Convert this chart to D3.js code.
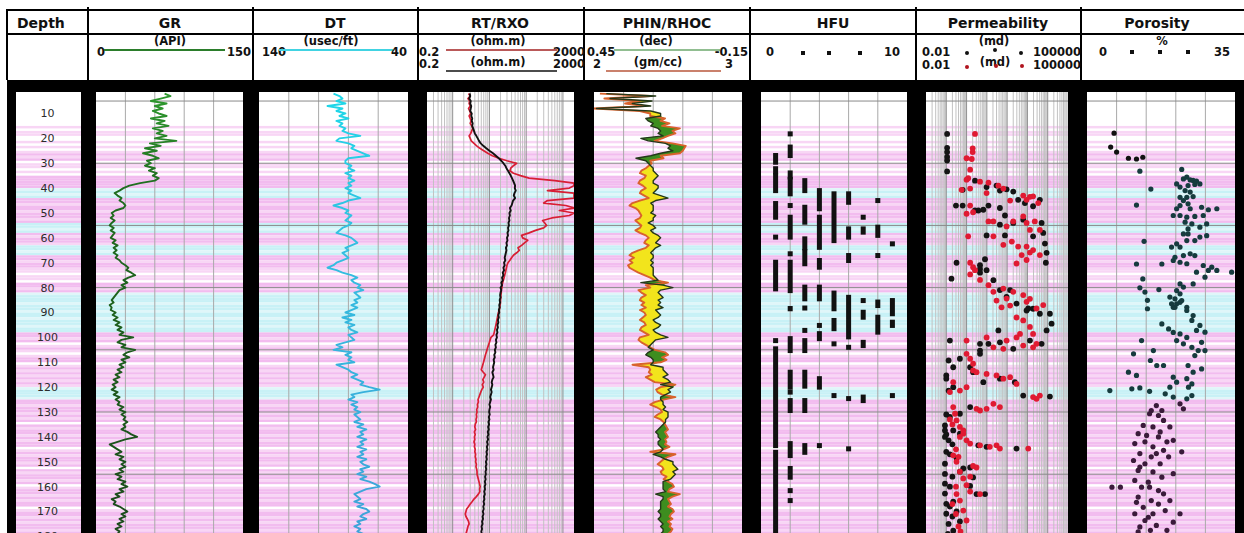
<!DOCTYPE html>
<html>
<head>
<meta charset="utf-8">
<script src="https://cdn.jsdelivr.net/npm/d3@7"></script>
<style>
  html, body { margin: 0; padding: 0; background: #fff; }
  svg { display: block; }
</style>
</head>
<body>
<svg id="chart" width="1244" height="533"></svg>
<script>
// ---------------- log data (1 ft sampling from depth 2 to 180) ----------------
const depthTop = 2;
const depthStep = 1;

const grValues = [
  70,76,66,56,72,60,68,58,
  64,72,56,70,62,74,58,68,62,72,
  60,82,55,66,50,62,48,58,64,52,
  56,50,60,54,62,58,64,60,45,34,
  28,24,19,22,26,24,28,30,28,20,
  16,18,15,19,16,14,18,15,19,17,
  15,20,17,22,18,21,18,22,20,24,
  26,30,33,31,36,40,33,28,32,26,
  30,24,22,20,18,16,18,14,16,15,
  20,17,22,18,24,20,26,22,28,24,
  38,26,22,30,26,40,32,28,34,26,
  30,24,28,22,26,20,24,18,22,17,
  20,16,22,18,24,20,24,22,28,24,
  30,26,30,28,32,28,30,26,32,36,
  42,30,22,14,18,22,26,20,28,24,
  30,26,30,24,28,20,26,22,30,26,
  32,24,28,20,24,16,20,18,24,28,
  32,26,30,24,28,22,26,20,24,22,26
];

const dtValues = [
  90,86,84,88,82,94,84,88,
  82,86,80,88,84,86,82,84,80,72,
  86,88,80,76,78,74,70,66,80,82,
  82,78,80,76,82,78,80,76,80,78,
  82,78,80,76,72,80,84,90,84,80,
  82,78,80,82,78,80,84,86,88,82,
  78,76,74,78,82,80,84,82,80,84,
  88,90,94,88,84,78,74,78,76,72,
  74,70,76,74,72,76,74,78,74,78,
  82,76,84,78,82,76,80,78,74,80,
  78,76,82,88,84,90,78,82,78,80,
  76,88,84,80,78,74,78,74,70,72,
  66,59,70,78,76,80,74,78,74,76,
  72,76,74,72,76,70,74,68,72,70,
  74,68,72,70,74,68,72,70,74,68,
  72,70,66,72,70,74,68,72,66,62,
  59,68,72,76,74,72,76,70,74,68,
  66,70,72,68,74,72,76,72,74,70,72
];

const rtValues = [
  2.9,3.0,2.8,3.1,3.0,3.2,3.1,3.0,
  3.3,3.2,3.4,3.3,3.5,3.4,3.6,3.8,4.0,4.4,
  4.8,5.2,5.8,6.8,8.2,10,12.5,15,18,21,
  24,27,29,32,35,38,41,44,47,50,
  49,52,48,46,50,44,42,40,36,38,
  35,36,34,35,33,34,32,33,31,32,
  30,31,29,30,28,29,28,27,26,27,
  25,26,24,25,23,24,22,23,21,22,
  20,21,20,19.5,20,19,19.5,18.5,19,18,
  18.5,17.5,18,17,17.5,16.5,17,16,16.5,15.5,
  16,15,15.5,14.5,15,14,14.5,13.5,14,13,
  13.5,13,12.5,13,12,12.5,13,12,11.5,12,
  11.5,11,11.5,11,10.5,11,10.5,10,10.5,10,
  9.8,10.2,9.6,10,9.4,9.8,9.2,9.6,9.0,9.4,
  8.8,9.2,8.6,9.0,8.5,8.8,8.3,8.6,8.2,8.5,
  8.0,8.3,7.9,8.2,7.8,8.0,7.6,7.9,7.5,7.8,
  7.4,7.6,7.2,7.5,7.1,7.3,6.9,7.2,6.8,7.0,
  6.6,6.9,6.5,6.7,6.3,6.5,6.1,6.3,6.0,6.2,5.9
];

const rxoValues = [
  2.7,3.0,2.6,2.9,2.8,3.0,2.7,2.9,
  3.1,2.8,3.0,3.2,3.0,3.3,3.5,3.3,3.1,2.8,
  3.0,3.2,3.8,4.5,5.5,7,9,12,18,30,
  55,45,38,36,45,70,120,600,2000,2000,
  1500,380,2000,2000,2000,380,300,1200,2000,800,
  2000,1500,500,280,320,360,300,180,120,75,
  80,110,90,75,60,65,55,45,40,36,
  32,30,29,28,27,26,25,24,23,22,
  22,21,21,20.5,20.5,20,20,19.5,19,18.5,
  17.5,17,16.5,16,15.5,15,14.5,14,13.5,13,
  11,10.5,10,9.5,9,8.6,8.2,7.8,7.5,7.2,
  6.9,6.6,6.3,6.0,6.8,7.8,7.2,6.6,7.0,6.4,
  6.8,6.2,5.8,5.5,5.2,4.9,5.0,4.7,4.8,4.5,
  4.6,4.4,4.5,4.3,4.4,4.1,4.0,4.2,3.9,4.1,
  3.9,4.0,3.8,4.0,3.9,4.1,4.0,4.2,4.1,4.3,
  4.2,4.4,4.3,4.5,4.6,4.6,4.8,5.0,5.2,5.4,
  5.6,5.4,5.5,5.0,4.4,3.8,3.4,3.0,2.7,2.4,
  2.3,2.2,2.3,2.5,2.7,2.8,2.6,2.5,2.4,2.3,2.3
];

const phinValues = [
  0.40,0.20,0.385,0.215,0.295,0.22,0.44,0.22,
  0.18,0.18,0.24,0.23,0.21,0.22,0.19,0.18,0.19,0.17,
  0.26,0.23,0.16,0.14,0.15,0.13,0.18,0.22,0.28,0.24,
  0.23,0.22,0.21,0.21,0.20,0.19,0.20,0.21,0.21,0.19,
  0.19,0.20,0.21,0.18,0.15,0.20,0.22,0.21,0.21,0.21,
  0.22,0.20,0.21,0.21,0.23,0.21,0.20,0.22,0.21,0.19,
  0.18,0.19,0.20,0.18,0.20,0.21,0.22,0.21,0.21,0.22,
  0.21,0.22,0.21,0.21,0.21,0.21,0.20,0.19,0.26,0.17,
  0.13,0.18,0.19,0.18,0.17,0.19,0.18,0.19,0.17,0.20,
  0.19,0.18,0.19,0.21,0.20,0.18,0.19,0.21,0.20,0.18,
  0.15,0.20,0.21,0.22,0.23,0.21,0.23,0.24,0.22,0.21,
  0.21,0.22,0.17,0.17,0.16,0.15,0.17,0.15,0.14,0.18,
  0.13,0.15,0.14,0.16,0.18,0.18,0.17,0.17,0.16,0.17,
  0.15,0.15,0.15,0.16,0.16,0.17,0.18,0.19,0.20,0.19,
  0.19,0.18,0.19,0.19,0.18,0.17,0.18,0.21,0.18,0.16,
  0.13,0.13,0.12,0.11,0.13,0.12,0.13,0.14,0.17,0.17,
  0.17,0.17,0.16,0.20,0.17,0.17,0.18,0.18,0.18,0.18,
  0.19,0.18,0.18,0.19,0.18,0.17,0.18,0.17,0.17,0.18,0.18
];

const rhocValues = [
  2.04,2.38,2.07,2.31,2.21,2.34,2.00,2.31,
  2.38,2.38,2.48,2.45,2.51,2.46,2.58,2.53,2.55,2.50,
  2.46,2.41,2.53,2.62,2.61,2.60,2.58,2.45,2.47,2.38,
  2.39,2.37,2.35,2.32,2.31,2.35,2.34,2.31,2.30,2.33,
  2.35,2.32,2.31,2.34,2.37,2.31,2.26,2.24,2.28,2.30,
  2.31,2.32,2.31,2.28,2.30,2.32,2.31,2.28,2.31,2.35,
  2.37,2.35,2.34,2.37,2.35,2.30,2.26,2.24,2.27,2.24,
  2.26,2.23,2.24,2.27,2.30,2.34,2.38,2.41,2.50,2.35,
  2.38,2.30,2.32,2.35,2.32,2.31,2.34,2.32,2.35,2.31,
  2.34,2.35,2.33,2.31,2.34,2.35,2.32,2.31,2.34,2.37,
  2.31,2.30,2.32,2.35,2.38,2.41,2.48,2.50,2.46,2.49,
  2.45,2.26,2.37,2.38,2.37,2.39,2.35,2.38,2.41,2.55,
  2.45,2.42,2.43,2.46,2.55,2.47,2.41,2.38,2.42,2.45,
  2.46,2.43,2.41,2.45,2.47,2.48,2.49,2.50,2.48,2.49,
  2.50,2.48,2.49,2.48,2.51,2.47,2.38,2.55,2.50,2.47,
  2.45,2.43,2.46,2.47,2.45,2.46,2.49,2.47,2.50,2.53,
  2.54,2.51,2.50,2.58,2.53,2.50,2.51,2.52,2.50,2.53,
  2.54,2.52,2.51,2.53,2.50,2.52,2.51,2.53,2.52,2.50,2.51
];

// hydraulic flow units: [unit, top depth, base depth]
const hfuIntervals = [
  [1,26.9,29.6],[1,32.2,33.5],[1,35,41],[1,46.2,51.7],[1,59.7,59.7],[1,69.8,80.5],[1,101.3,101.3],[1,104.6,143.5],[1,146.2,181],
  [2,18.2,18.2],[2,23.5,26.9],[2,33.9,35.5],[2,36.5,42.3],[2,47,47],[2,51.7,59.7],[2,66.4,66.4],[2,69.8,81.2],[2,88.4,88.5],
  [2,100.5,105.3],[2,114,120],[2,122,122],[2,125.4,129.4],[2,142.7,147.5],[2,152.7,156.2],[2,161.6,161.6],[2,165.6,165.6],
  [3,37,41],[3,47.7,53.7],[3,60.4,64],[3,65.5,70.4],[3,79.8,84.5],[3,88.2,88.2],[3,97.2,97.2],[3,101.3,105.3],[3,114,119.6],[3,125.4,129.4],[3,143.5,146.2],
  [4,41,48.3],[4,51.7,63.8],[4,69.1,71.8],[4,79.8,84.5],[4,95.2,95.2],[4,98.5,100.5],[4,116.6,120],[4,143.5,143.5],
  [5,42.3,61.1],[5,82.2,88.5],[5,93.2,96.5],[5,102.6,102.6],[5,123.4,123.4],
  [6,42.3,45.7],[6,56.4,59.7],[6,67.1,69.1],[6,83.9,92],[6,94,99.8],[6,104,104],[6,124.6,124.6],[6,144.8,144.8],
  [7,51.7,51.7],[7,56.4,57.7],[7,85.2,85.2],[7,89.9,91.9],[7,102,103.3],[7,124,125.4],
  [8,45,45],[8,55.7,59],[8,67.1,67.1],[8,85.8,87.2],[8,91.9,97.9],
  [9,62.4,62.4],[9,85.2,90.5],[9,93.9,95.2],[9,123.4,123.4]
];

// core permeability [depth, md]
const permCore = [
  [18.2,0.11],[23.8,0.11],[25.5,0.11],[27.5,0.11],[28.9,0.11],[33.3,0.11],
  [37,2.6],[39.6,9.7],[39,30],[40.7,0.64],[40.5,94],[41,44],[41.4,200],[44.7,350],[44.7,4100],[46,750],
  [47,0.3],[47,0.64],[47,12],[47.3,1900],[48,44],[48.7,6.7],[49,2.6],[49,3.8],[51,78],[52.7,620],[54,200],
  [54,5000],[54.7,44],[58,6000],[59,78],[59,9.7],[59.4,1900],[62.3,7300],[66,8800],[68.6,8.1],[70,0.32],
  [70,8100],[71,4.6],[72.5,4.6],[73,9.7],[74,4.6],[76.4,0.18],[77,21],[81,44],[81,140],[83.7,94],[86.4,290],
  [88.4,1100],[89.2,910],[88.5,1900],[90.5,4100],[90.5,12800],[94.5,15500],[97.2,8800],[102.6,5000],
  [101.3,1330],[104.6,200],[102,44],[97.2,37],[102.6,12],[102.6,4.6],[105.3,4.6],[101.3,0.15],[109.3,0.13],
  [112,0.22],[108.6,0.47],[112,1.5],[106.6,4.6],[115.3,0.1],[116.6,0.1],[121.4,0.13],[120,0.22],[114,2.1],
  [118,6.7],[116.6,44],[118,240],[123.4,620],[123.8,12800],[132,0.15],[135.4,0.086],[137.4,0.086],[140,0.086],
  [141.4,0.13],[137.4,0.22],[138.7,0.47],[128,1.5],[130.7,0.47],[143.4,3.8],[144,9.7],[144.7,290],[146,0.1],
  [150.8,0.086],[154.9,0.086],[158.8,0.086],[162.8,0.086],[166.9,0.1],[170.9,0.1],[175,0.13],[177.7,0.22],
  [148.5,0.32],[154,0.47],[152.7,0.69],[152.3,1.5],[156.3,2.1],[159.7,1.5],[163,3.1],[163,8.1],[166,0.22],
  [170,0.32],[174,0.47],[131,0.1],[139,0.1],[143,0.2],[147,0.15],[156,0.2],[160,0.15],[168,0.15],[172,0.2],[179,0.12]
];

// predicted permeability [depth, md]
const permPred = [
  [18.2,2.6],[24,2.0],[25.5,2.0],[28,1.0],[28.3,1.8],[32.6,1.5],[36,1.2],[36.6,1.0],[40.7,0.57],[40.2,1.5],
  [37.4,4.6],[37.8,12],[39,37],[40.2,65],[42,9.7],[45,140],[43,620],[44.7,910],[43.5,1330],[43.3,1900],
  [46,3400],[47,1.5],[49.7,2.1],[50.3,1.0],[53.4,12],[53.4,21],[55.4,94],[53.4,200],[51.4,620],[54,910],
  [56.8,1330],[53.4,2300],[56.8,4100],[59.4,21],[62.8,65],[61.5,170],[63.5,350],[63.5,910],[65.9,1330],
  [66.9,520],[64.9,1900],[66.9,4100],[70.3,290],[68.9,910],[59.4,1.2],[70,1.5],[71.8,2.1],[73,2.6],[74.7,1.5],
  [76.9,4.6],[79,12],[81.7,21],[80.4,65],[84.4,94],[81.7,200],[83,620],[85.7,910],[84.5,1330],[88.4,2800],
  [87,6000],[85.2,30],[87.9,53],[87.2,140],[92,290],[93.2,620],[95.8,1330],[98.6,1900],[98.6,430],[100,290],
  [102.6,2800],[104,1900],[103.3,620],[100,9.7],[104,21],[104.6,65],[101.3,94],[101.3,1.0],[106.6,1.0],
  [108.6,1.5],[110.6,2.1],[113.3,2.1],[114,3.1],[114.7,9.7],[115.3,30],[116.6,65],[116,140],[118.7,290],
  [120,1.0],[121.4,0.47],[122,0.15],[118,0.22],[124,1900],[124.7,2800],[123.4,4100],[126.7,21],[128,44],
  [128.7,9.7],[129.4,4.6],[128.7,3.1],[128,0.22],[130.7,0.27],[133.4,0.32],[136,0.47],[138.7,0.69],[141.4,1.0],
  [137.4,0.69],[140,0.47],[142.7,1.5],[143.4,4.6],[144,14],[143.4,30],[144.7,44],[144.7,1100],[147.4,0.22],
  [150,0.32],[154,0.47],[156.7,0.69],[159.4,1.0],[162,1.5],[151.7,2.1],[152.3,3.1],[156,1.5],[163,4.6],
  [163,0.32],[165.6,0.47],[169.6,0.69],[173.6,1.0],[133,0.15],[135,0.2],[145,0.3],[148,0.4],[160,0.3],
  [167,0.2],[171,0.3],[176,0.4],[178,0.5]
];

// porosity [depth, %]
const porosity = [
  [17.9,6.4],[23.5,5.6],[25.5,7.0],[28.0,9.8],[28.3,11.7],[27.6,13.2],[33.2,12.5],[40.4,15.1],[46.8,11.7],
  [61.4,13.5],[70.5,11.7],[70.5,17.7],[76.5,13.2],[80.1,12.5],[81.8,13.7],[80.8,17.0],[85.1,14.3],
  [32.5,22.4],[36.3,22.8],[35.6,23.6],[36.7,24.4],[36.9,25.1],[37.2,25.9],[38.3,21.2],[39.6,22.0],[39.0,23.9],
  [38.5,25.5],[38.3,26.7],[41.0,23.2],[41.6,24.4],[43.7,22.0],[43.7,23.6],[43.4,25.1],[45.0,22.8],[46.3,23.9],
  [47.0,22.0],[48.3,21.2],[48.3,24.4],[47.7,27.1],[48.7,28.7],[48.3,30.7],[51.0,20.4],[51.0,22.0],[51.7,23.6],
  [51.4,25.5],[51.0,27.5],[53.7,23.2],[54.4,24.8],[56.4,23.9],[55.7,26.7],[54.4,28.3],[58.4,22.8],[58.4,23.9],
  [59.7,26.7],[59.1,28.3],[61.1,23.6],[61.1,25.5],[62.4,21.2],[63.7,20.0],[63.7,22.0],[67.8,20.8],[67.1,22.8],
  [66.4,24.4],[67.1,25.5],[69.1,20.4],[69.8,22.0],[70.4,23.6],[71.1,27.5],[71.8,29.5],[73.1,28.7],[73.1,30.7],
  [73.8,34.2],[73.8,25.9],[75.8,27.9],[78.5,25.1],[78.5,22.0],[79.8,22.8],[81.2,21.2],[82.5,22.0],[83.8,19.6],
  [84.5,20.8],[85.2,22.4],[86.5,21.2],[87.9,20.4],[87.9,23.6],
  [88.5,14.3],[86.5,20.0],[87.9,20.8],[85.9,22.0],[89.2,23.6],[91.2,25.1],[93.2,24.8],[95.2,26.7],[94.6,17.7],
  [96.6,19.3],[98.0,20.4],[98.6,22.0],[97.2,25.9],[97.9,27.9],[101.3,21.2],[100.0,23.6],[102.6,22.8],[104.0,24.8],
  [102.0,27.1],[105.3,27.9],[105.3,26.3],[107.3,25.5],[101.3,12.9],[105.3,15.7],[109.3,15.0],[106.6,11.0],
  [111.3,18.1],[111.3,16.5],[111.3,23.9],[112.7,27.1],[114.0,25.1],[114.0,9.8],[115.3,11.7],[116.0,20.4],
  [118.0,21.2],[116.6,23.6],[118.7,24.8],[120.0,24.0],[120.0,19.6],[122.7,18.5],[121.4,5.4],[120.7,10.6],
  [120.3,12.5],[121.7,14.8],[124.0,20.4],[124.7,23.6],[123.4,24.8],[126.7,22.0],[128.7,22.8],
  [127.4,16.4],[129.4,17.7],[130.7,14.8],[131.4,16.9],[133.4,18.1],[135.4,13.3],[136.0,15.6],[136.0,19.6],
  [138.7,12.1],[139.4,14.1],[140.0,16.9],[141.4,20.4],[142.7,11.3],[144.0,15.6],[145.4,18.1],[146.0,22.4],
  [146.7,12.5],[148.0,15.2],[148.0,19.3],[149.5,11.0],[150.8,13.7],[150.8,17.3],[153.5,12.1],[154.1,15.6],
  [154.8,20.4],[157.5,11.3],[158.2,14.5],[160.2,5.9],[160.2,7.9],[160.2,12.9],[161.6,16.9],[164.2,12.1],
  [165.6,15.2],[162.9,18.1],[168.3,13.3],[170.9,11.3],[170.9,15.6],[169.6,18.5],[173.6,13.7],[176.2,12.5],
  [175.6,16.4],[177.6,15.0],[174.3,20.4],[177.6,18.9],[129.4,15.2],[138.0,17.3],[142.0,13.7],[142.0,18.9],
  [146.7,16.4],[152.1,12.5],[156.2,17.7],[160.2,14.8],[166.3,11.7],[167.0,16.9],[172.3,14.5],[178.2,12.1],
  [165.6,19.6],[170.9,22.0]
];

// facies shading per 1 ft interval from depth 0 (0 none, 1 light pink, 2 pink, 3 cyan, 4 pale cyan)
const faciesCodes = [
  0,0,0,0,0,0,0,0,0,0,
  0,0,0,0,0,1,0,1,1,0,
  0,1,0,1,0,1,2,1,2,0,
  1,1,0,1,0,2,2,2,2,2,
  4,3,4,3,2,2,1,2,2,1,
  2,2,1,2,3,3,4,3,2,1,
  2,2,1,3,3,4,3,2,2,1,
  2,2,1,1,0,1,1,0,2,2,
  1,2,4,3,3,3,4,3,3,4,
  3,3,4,3,3,4,3,3,2,2,
  1,2,0,1,2,1,0,1,2,2,
  0,1,2,1,2,1,2,1,2,1,
  4,3,3,3,4,2,2,1,2,2,
  1,2,1,2,0,2,1,2,2,1,
  2,1,2,2,0,1,2,1,2,2,
  1,2,0,2,1,2,2,1,2,0,
  1,2,2,1,2,1,2,2,0,1,
  2,2,1,2,1,2,2,1,2,1,2
];

const depthLabels = [10,20,30,40,50,60,70,80,90,100,110,120,130,140,150,160,170,180];
const majorGridDepths = [5,30,55,80,105,130,155,180];

// ---------------- layout ----------------
const svg = d3.select("#chart");
const W = 1244, H = 533;
const headerTop = 10, headerMid = 34, headerBot = 80, bodyTop = 92;
const colEdges = [7, 88, 253, 418, 584, 750, 916, 1081, 1244];
const panels = {
  depth: [16, 81], gr: [96, 243], dt: [259, 408], rt: [427, 574],
  phin: [594, 742], hfu: [761, 907], perm: [926, 1068], por: [1087, 1235]
};
const faciesColor = [null, "#f8d6f5", "#f2bcef", "#c8f1f6", "#e0f6f9"];

const y = d3.scaleLinear().domain([0, 180]).range([88.6, 536.4]);
const xGR = d3.scaleLinear().domain([0, 150]).range(panels.gr);
const xDT = d3.scaleLinear().domain([140, 40]).range(panels.dt);
const xRT = d3.scaleLog().domain([0.2, 2000]).range(panels.rt);
const xPHIN = d3.scaleLinear().domain([0.45, -0.15]).range(panels.phin);
const xRHOC = d3.scaleLinear().domain([2, 3]).range(panels.phin);
const xHFU = d3.scaleLinear().domain([0, 10]).range(panels.hfu);
const xPERM = d3.scaleLog().domain([0.01, 100000]).range(panels.perm);
const xPOR = d3.scaleLinear().domain([0, 35]).range(panels.por);

const sampleDepth = i => depthTop + i * depthStep;

const defs = svg.append("defs");
Object.entries(panels).forEach(([k, [x0, x1]]) => {
  defs.append("clipPath").attr("id", "clip-" + k)
    .append("rect").attr("x", x0).attr("y", bodyTop).attr("width", x1 - x0).attr("height", H - bodyTop);
});
function gradient(id, stops) {
  const g = defs.append("linearGradient").attr("id", id)
    .attr("gradientUnits", "userSpaceOnUse").attr("x1", 0).attr("y1", bodyTop).attr("x2", 0).attr("y2", H);
  stops.forEach(([o, c]) => g.append("stop").attr("offset", o).attr("stop-color", c));
}
gradient("grStroke", [[0, "#2f9a2f"], [0.22, "#1f6d1f"], [1, "#1b4a1b"]]);
gradient("dtStroke", [[0, "#1ed8e8"], [0.35, "#33bfe0"], [1, "#3da3d8"]]);

// page and body background
svg.append("rect").attr("width", W).attr("height", H).attr("fill", "#fff");
svg.append("rect").attr("x", colEdges[0]).attr("y", headerBot).attr("width", W - colEdges[0]).attr("height", H - headerBot).attr("fill", "#000");

// ---------------- panels: background, facies, grid ----------------
function panelGroup(key) {
  const [x0, x1] = panels[key];
  const g = svg.append("g").attr("clip-path", `url(#clip-${key})`);
  g.append("rect").attr("x", x0).attr("y", bodyTop).attr("width", x1 - x0).attr("height", H - bodyTop).attr("fill", "#fff");
  g.selectAll("rect.facies").data(faciesCodes.map((c, i) => ({ c, d: i })).filter(o => o.c > 0))
    .join("rect").attr("class", "facies")
    .attr("x", x0).attr("width", x1 - x0)
    .attr("y", o => y(o.d)).attr("height", o => y(o.d + 1) - y(o.d))
    .attr("fill", o => faciesColor[o.c]);
  return g;
}
function linearGrid(g, key, n) {
  const [x0, x1] = panels[key];
  g.selectAll("line.vg").data(d3.range(1, n)).join("line").attr("class", "vg")
    .attr("x1", i => x0 + (x1 - x0) * i / n).attr("x2", i => x0 + (x1 - x0) * i / n)
    .attr("y1", bodyTop).attr("y2", H).attr("stroke", "#a9a9a9").attr("stroke-width", 1);
}
function logGrid(g, scale) {
  const [lo, hi] = scale.domain();
  const vals = [];
  for (let e = Math.floor(Math.log10(lo)); e <= Math.ceil(Math.log10(hi)); e++) {
    for (let m = 1; m <= 9; m++) {
      const v = m * Math.pow(10, e);
      if (v > lo * 1.0001 && v < hi * 0.9999) vals.push({ v, major: m === 1 });
    }
  }
  g.selectAll("line.lg").data(vals).join("line").attr("class", "lg")
    .attr("x1", o => scale(o.v)).attr("x2", o => scale(o.v))
    .attr("y1", bodyTop).attr("y2", H)
    .attr("stroke", o => o.major ? "#8f8f8f" : "#c2c2c2").attr("stroke-width", 1);
}
function depthGrid(g, key) {
  const [x0, x1] = panels[key];
  g.selectAll("line.hg").data(majorGridDepths).join("line").attr("class", "hg")
    .attr("x1", x0).attr("x2", x1).attr("y1", d => y(d)).attr("y2", d => y(d))
    .attr("stroke", "#8a8a8a").attr("stroke-width", 1);
}

// depth track
const gDepth = panelGroup("depth");
gDepth.selectAll("text").data(depthLabels).join("text")
  .attr("x", 47.5).attr("y", d => y(d)).attr("dy", "0.36em")
  .attr("text-anchor", "middle").attr("font-family", "DejaVu Sans, Verdana, sans-serif")
  .attr("font-size", 11).attr("fill", "#2b2b2b").text(d => d);

// GR
const gGR = panelGroup("gr");
linearGrid(gGR, "gr", 5); depthGrid(gGR, "gr");
const grRows = grValues.map((v, i) => ({ d: sampleDepth(i), v }));
gGR.append("path").datum(grRows)
  .attr("d", d3.line().x(r => xGR(r.v)).y(r => y(r.d)))
  .attr("fill", "none").attr("stroke", "url(#grStroke)").attr("stroke-width", 1.9).attr("stroke-linejoin", "round");

// DT
const gDT = panelGroup("dt");
linearGrid(gDT, "dt", 5); depthGrid(gDT, "dt");
const dtRows = dtValues.map((v, i) => ({ d: sampleDepth(i), v }));
gDT.append("path").datum(dtRows)
  .attr("d", d3.line().x(r => xDT(r.v)).y(r => y(r.d)))
  .attr("fill", "none").attr("stroke", "url(#dtStroke)").attr("stroke-width", 1.9).attr("stroke-linejoin", "round");

// RT / RXO
const gRT = panelGroup("rt");
logGrid(gRT, xRT); depthGrid(gRT, "rt");
const rtRows = rtValues.map((v, i) => ({ d: sampleDepth(i), rt: v, rxo: rxoValues[i] }));
gRT.append("path").datum(rtRows)
  .attr("d", d3.line().x(r => xRT(r.rxo)).y(r => y(r.d)))
  .attr("fill", "none").attr("stroke", "#d81e34").attr("stroke-width", 1.7).attr("stroke-linejoin", "round");
gRT.append("path").datum(rtRows)
  .attr("d", d3.line().x(r => xRT(r.rt)).y(r => y(r.d)))
  .attr("fill", "none").attr("stroke", "#111").attr("stroke-width", 1.9).attr("stroke-linejoin", "round");

// PHIN / RHOC with crossover shading
const gPH = panelGroup("phin");
linearGrid(gPH, "phin", 5); depthGrid(gPH, "phin");
const phRows = phinValues.map((v, i) => ({ d: sampleDepth(i), phin: v, rhoc: rhocValues[i] }));
gPH.append("path").datum(phRows)
  .attr("d", d3.area().y(r => y(r.d))
    .x0(r => xRHOC(r.rhoc)).x1(r => Math.max(xRHOC(r.rhoc), xPHIN(r.phin))))
  .attr("fill", "#f2e41c");
gPH.append("path").datum(phRows)
  .attr("d", d3.area().y(r => y(r.d))
    .x0(r => xPHIN(r.phin)).x1(r => Math.max(xPHIN(r.phin), xRHOC(r.rhoc))))
  .attr("fill", "#3d8d1f");
gPH.append("path").datum(phRows)
  .attr("d", d3.line().x(r => xRHOC(r.rhoc)).y(r => y(r.d)))
  .attr("fill", "none").attr("stroke", "#d9622c").attr("stroke-width", 1.9).attr("stroke-linejoin", "round");
gPH.append("path").datum(phRows)
  .attr("d", d3.line().x(r => xPHIN(r.phin)).y(r => y(r.d)))
  .attr("fill", "none").attr("stroke", "#24381a").attr("stroke-width", 1.4).attr("stroke-linejoin", "round");

// HFU
const gHF = panelGroup("hfu");
linearGrid(gHF, "hfu", 5); depthGrid(gHF, "hfu");
gHF.selectAll("rect.hfu").data(hfuIntervals).join("rect").attr("class", "hfu")
  .attr("x", r => xHFU(r[0]) - 2.5).attr("width", 5)
  .attr("y", r => y(r[1]) - 2.5).attr("height", r => y(r[2]) - y(r[1]) + 5)
  .attr("fill", "#111");

// Permeability
const gPE = panelGroup("perm");
logGrid(gPE, xPERM); depthGrid(gPE, "perm");
gPE.selectAll("circle.core").data(permCore).join("circle").attr("class", "core")
  .attr("cx", p => xPERM(p[1])).attr("cy", p => y(p[0])).attr("r", 2.9).attr("fill", "#141414");
gPE.selectAll("circle.pred").data(permPred).join("circle").attr("class", "pred")
  .attr("cx", p => xPERM(p[1])).attr("cy", p => y(p[0])).attr("r", 2.9).attr("fill", "#e01a32");

// Porosity
const gPO = panelGroup("por");
linearGrid(gPO, "por", 5); depthGrid(gPO, "por");
gPO.selectAll("circle").data(porosity).join("circle")
  .attr("cx", p => xPOR(p[1])).attr("cy", p => y(p[0])).attr("r", 2.6)
  .attr("fill", p => p[0] < 30 ? "#111" : (p[0] < 125 ? "#163b3e" : "#3a1b3a"));

// ---------------- header ----------------
const hdr = svg.append("g");
hdr.append("rect").attr("x", colEdges[0]).attr("y", headerTop).attr("width", W - colEdges[0]).attr("height", headerBot - headerTop).attr("fill", "#fff");
hdr.append("line").attr("x1", colEdges[0]).attr("x2", W).attr("y1", headerTop).attr("y2", headerTop).attr("stroke", "#000").attr("stroke-width", 2);
hdr.append("line").attr("x1", colEdges[0]).attr("x2", W).attr("y1", headerMid).attr("y2", headerMid).attr("stroke", "#000").attr("stroke-width", 2);
hdr.selectAll("line.sep").data(colEdges.slice(0, -1)).join("line").attr("class", "sep")
  .attr("x1", x => x).attr("x2", x => x).attr("y1", (x, i) => i === 0 ? headerTop - 1 : 7).attr("y2", headerBot)
  .attr("stroke", "#000").attr("stroke-width", 2);

const titleFont = "DejaVu Sans, Verdana, sans-serif";
const trackTitles = ["Depth", "GR", "DT", "RT/RXO", "PHIN/RHOC", "HFU", "Permeability", "Porosity"];
const titleX = [17, 170, 335, 500, 667, 833, 998, 1157];
hdr.selectAll("text.title").data(trackTitles).join("text").attr("class", "title")
  .attr("x", (t, i) => titleX[i]).attr("y", 28)
  .attr("text-anchor", (t, i) => i === 0 ? "start" : "middle")
  .attr("font-family", titleFont).attr("font-weight", "bold").attr("font-size", 14).attr("fill", "#111")
  .text(t => t);

function label(x, yy, s, anchor, size) {
  hdr.append("text").attr("x", x).attr("y", yy).attr("text-anchor", anchor || "start")
    .attr("font-family", titleFont).attr("font-weight", "bold").attr("font-size", size || 11.5)
    .attr("fill", "#111").text(s);
}
function hline(x0, x1, yy, color, w) {
  hdr.append("line").attr("x1", x0).attr("x2", x1).attr("y1", yy).attr("y2", yy)
    .attr("stroke", color).attr("stroke-width", w || 1.6);
}
// GR
label(97, 56, "0"); hline(104, 225, 50, "#2b7d2b", 2); label(251, 56, "150", "end"); label(170, 45, "(API)", "middle");
// DT
label(262, 56, "140"); hline(279, 393, 50, "#41d3e2", 2); label(407, 56, "40", "end"); label(331, 45, "(usec/ft)", "middle");
// RT / RXO
label(419, 56, "0.2"); hline(446, 557, 50, "#a32222", 1.6); label(585, 56, "2000", "end"); label(498, 45, "(ohm.m)", "middle");
label(419, 68, "0.2"); hline(446, 557, 71, "#111", 1.6); label(585, 68, "2000", "end"); label(498, 66, "(ohm.m)", "middle");
// PHIN / RHOC
label(587, 56, "0.45"); hline(614, 720, 50, "#6da86d", 1.6); label(748, 56, "-0.15", "end"); label(656, 45, "(dec)", "middle");
label(593, 68, "2"); hline(606, 721, 71, "#b9573b", 1.6); label(725, 68, "3"); label(658, 66, "(gm/cc)", "middle");
// HFU
label(766, 56, "0"); label(900, 56, "10", "end");
hdr.selectAll("rect.hfuKey").data([803, 829, 860]).join("rect").attr("class", "hfuKey")
  .attr("x", x => x - 2).attr("y", 51).attr("width", 4).attr("height", 4).attr("fill", "#111");
// Permeability
label(922, 56, "0.01"); label(1081, 56, "100000", "end"); label(994, 45, "(md)", "middle");
label(922, 69, "0.01"); label(1081, 69, "100000", "end"); label(995, 66, "(md)", "middle");
hdr.selectAll("circle.permKey").data([[967, 53], [995, 50], [1021, 53]]).join("circle").attr("class", "permKey")
  .attr("cx", p => p[0]).attr("cy", p => p[1]).attr("r", 2).attr("fill", "#111");
hdr.selectAll("circle.predKey").data([[967, 67], [996, 66], [1022, 66]]).join("circle").attr("class", "predKey")
  .attr("cx", p => p[0]).attr("cy", p => p[1]).attr("r", 2).attr("fill", "#b0141e");
// Porosity
label(1099, 56, "0"); label(1230, 56, "35", "end"); label(1162, 45, "%", "middle");
hdr.selectAll("rect.porKey").data([1132, 1160, 1188]).join("rect").attr("class", "porKey")
  .attr("x", x => x - 2).attr("y", 50).attr("width", 4).attr("height", 4).attr("fill", "#111");
</script>
</body>
</html>
